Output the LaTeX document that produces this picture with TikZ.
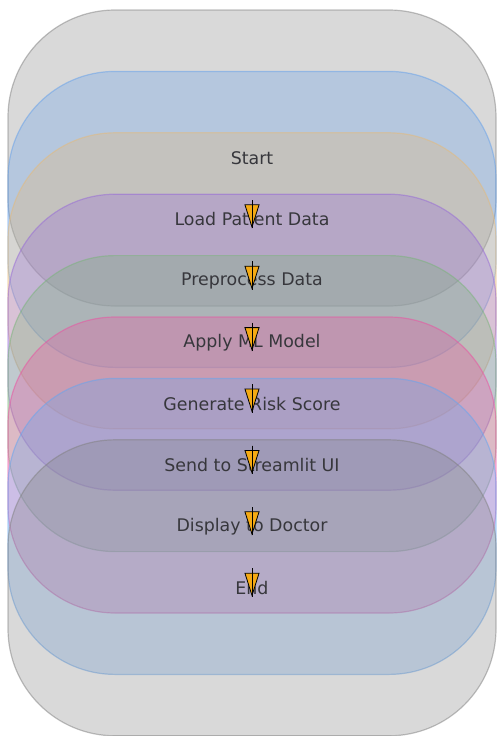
\documentclass[tikz,border=0pt]{standalone}
\usepackage{fontspec}
\setmainfont{DejaVu Sans}
\usetikzlibrary{arrows.meta}
\definecolor{stepgray}{RGB}{128, 128, 128}
\definecolor{stepblue}{RGB}{100, 160, 235}
\definecolor{steptan}{RGB}{230, 185, 120}
\definecolor{steppurple}{RGB}{150, 105, 215}
\definecolor{stepgreen}{RGB}{120, 180, 120}
\definecolor{steppink}{RGB}{235, 80, 160}
\definecolor{stepsky}{RGB}{100, 165, 240}
\definecolor{arrowfill}{RGB}{245, 170, 20}
\definecolor{labeltext}{RGB}{55, 55, 60}

\begin{document}
\begin{tikzpicture}[x=1pt, y=-1pt,
    stepbox/.style={draw=#1, fill=#1, fill opacity=0.3, draw opacity=0.5, line width=1.2pt,
        rounded corners=107pt, minimum width=488pt, minimum height=296pt, inner sep=0pt},
    steplabel/.style={text=labeltext, font=\fontsize{17.4}{20}\selectfont},
    flow/.style={draw=black, line width=0.8pt,
        -{Triangle[length=24pt, width=15pt, line width=0.8pt, fill=arrowfill]},
        postaction={draw=black, line width=0.6pt, arrows=-}}]
    \useasboundingbox (0,0) rectangle (498,736);

    % Rounded boxes, one per step
    \foreach \i/\c in {1/stepgray, 2/stepblue, 3/steptan, 4/steppurple,
                       5/stepgreen, 6/steppink, 7/stepsky, 8/stepgray} {
        \node[stepbox=\c] (box\i) at (252, 158+61.4*\i-61.4) {};
    }

    % Step names
    \foreach \i/\t in {1/Start, 2/Load Patient Data, 3/Preprocess Data, 4/Apply ML Model,
                       5/Generate Risk Score, 6/Send to Streamlit UI, 7/Display to Doctor, 8/End} {
        \node[steplabel] (step\i) at (box\i.center) {\t};
    }

    % Arrows between steps
    \foreach \i [count=\j from 2] in {1,...,7} {
        \draw[flow] ([yshift=-42pt]step\i.center) -- ([yshift=-9pt]step\j.center);
    }
\end{tikzpicture}
\end{document}
